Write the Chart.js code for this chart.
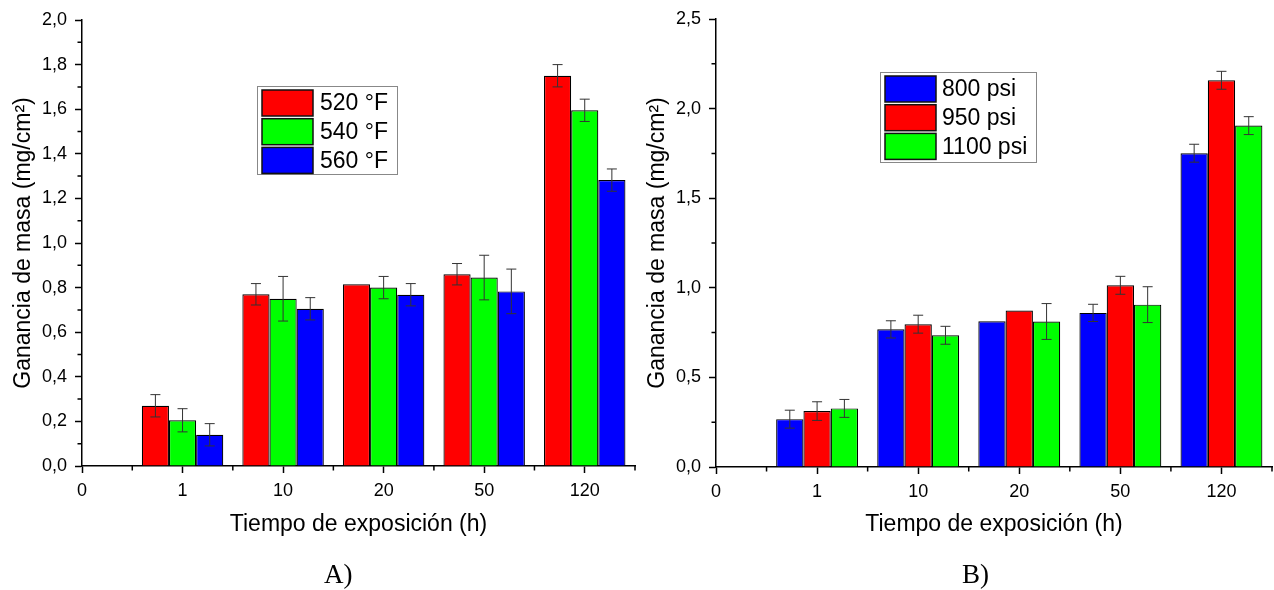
<!DOCTYPE html>
<html>
<head>
<meta charset="utf-8">
<script src="https://cdn.jsdelivr.net/npm/chart.js@4.4.1/dist/chart.umd.min.js"></script>
<style>
  html, body { margin: 0; padding: 0; background: #fff; }
  #wrap { position: relative; width: 1274px; height: 590px; overflow: hidden; }
  #chartA { position: absolute; left: 0; top: 0; }
  #chartB { position: absolute; left: 637px; top: 0; }
  .tag { position: absolute; top: 559px; line-height: 30px; font-family: "Liberation Serif", "Times New Roman", serif; font-size: 27px; color: #000; }
</style>
</head>
<body>
<div id="wrap">
  <canvas id="chartA" width="640" height="560"></canvas>
  <canvas id="chartB" width="637" height="560"></canvas>
  <div class="tag" style="left:324px">A)</div>
  <div class="tag" style="left:962px">B)</div>
</div>
<script>
// exposure time categories (x = 0 is only a tick, no bars)
const hours = ['0', '1', '10', '20', '50', '120'];
const groupPos = [1, 2, 3, 4, 5];

// A) temperature series
const temp520 = [0.27, 0.77, 0.815, 0.86, 1.75];
const temp520Err = [0.05, 0.048, 0, 0.048, 0.05];
const temp540 = [0.205, 0.75, 0.80, 0.845, 1.595];
const temp540Err = [0.052, 0.1, 0.05, 0.1, 0.05];
const temp560 = [0.14, 0.705, 0.768, 0.783, 1.282];
const temp560Err = [0.05, 0.05, 0.05, 0.1, 0.05];

// B) pressure series
const psi800 = [0.267, 0.768, 0.813, 0.86, 1.751];
const psi800Err = [0.05, 0.048, 0, 0.048, 0.05];
const psi950 = [0.312, 0.797, 0.873, 1.014, 2.158];
const psi950Err = [0.052, 0.05, 0, 0.05, 0.05];
const psi1100 = [0.327, 0.735, 0.812, 0.906, 1.905];
const psi1100Err = [0.05, 0.05, 0.1, 0.1, 0.05];

const FONT = '"Liberation Sans", Arial, sans-serif';
const RED = '#ff0000', GREEN = '#00ff00', BLUE = '#0000ff';

function series(label, values, errors, color) {
  return {
    label: label,
    data: groupPos.map((x, i) => ({x: x, y: values[i]})),
    errors: errors,
    backgroundColor: color,
    borderColor: '#000',
    borderWidth: 1.2,
    categoryPercentage: 0.81,
    barPercentage: 1.0
  };
}

const errorBars = {
  id: 'errorBars',
  afterDatasetsDraw(chart) {
    const {ctx, scales: {y}} = chart;
    ctx.save();
    ctx.strokeStyle = '#333';
    ctx.lineWidth = 1;
    chart.data.datasets.forEach((ds, i) => {
      chart.getDatasetMeta(i).data.forEach((bar, j) => {
        const e = ds.errors[j];
        if (!e) return;
        const v = ds.data[j].y;
        const top = y.getPixelForValue(v + e);
        const bot = y.getPixelForValue(v - e);
        ctx.beginPath();
        ctx.moveTo(bar.x, top); ctx.lineTo(bar.x, bot);
        ctx.moveTo(bar.x - 5, top); ctx.lineTo(bar.x + 5, top);
        ctx.moveTo(bar.x - 5, bot); ctx.lineTo(bar.x + 5, bot);
        ctx.stroke();
      });
    });
    ctx.restore();
  }
};

const minorTicks = {
  id: 'minorTicks',
  afterDraw(chart, args, o) {
    const {ctx, scales: {x, y}} = chart;
    ctx.save();
    ctx.strokeStyle = '#000';
    ctx.lineWidth = 1.5;
    ctx.beginPath();
    for (let v = o.xStep / 2; v <= x.max + 1e-9; v += o.xStep) {
      const px = x.getPixelForValue(v);
      ctx.moveTo(px, x.top); ctx.lineTo(px, x.top + o.len);
    }
    for (let v = o.yStep / 2; v <= y.max + 1e-9; v += o.yStep) {
      const py = y.getPixelForValue(v);
      ctx.moveTo(y.right, py); ctx.lineTo(y.right - o.len, py);
    }
    ctx.stroke();
    ctx.restore();
  }
};

const boxLegend = {
  id: 'boxLegend',
  afterDraw(chart, args, o) {
    const ctx = chart.ctx;
    ctx.save();
    ctx.fillStyle = '#fff';
    ctx.fillRect(o.x, o.y, o.w, o.h);
    ctx.strokeStyle = '#888';
    ctx.lineWidth = 1;
    ctx.strokeRect(o.x + 0.5, o.y + 0.5, o.w, o.h);
    ctx.font = '23px ' + FONT;
    ctx.textBaseline = 'middle';
    chart.data.datasets.forEach((ds, i) => {
      const sy = o.y + 4 + i * o.row;
      ctx.fillStyle = ds.backgroundColor;
      ctx.fillRect(o.x + 5, sy, 51, 26);
      ctx.strokeStyle = '#111';
      ctx.lineWidth = 1.5;
      ctx.strokeRect(o.x + 5, sy, 51, 26);
      ctx.fillStyle = '#000';
      ctx.fillText(ds.label, o.x + o.textX, sy + 14);
    });
    ctx.restore();
  }
};

function makeOptions(c) {
  return {
    responsive: false,
    animation: false,
    events: [],
    layout: {padding: {left: 0, top: c.padTop, right: c.padRight, bottom: 0}},
    plugins: {
      legend: {display: false},
      tooltip: {enabled: false},
      minorTicks: {xStep: 1, yStep: c.yStep, len: 4.5},
      boxLegend: c.legend
    },
    scales: {
      x: {
        type: 'linear', min: 0, max: 5.5, offset: false,
        grid: {offset: false, drawOnChartArea: false, drawTicks: true, tickLength: 7, tickColor: '#000', tickWidth: 1.5},
        border: {display: true, color: '#000', width: 1.5},
        ticks: {
          stepSize: 1, includeBounds: false, autoSkip: false, maxRotation: 0,
          padding: 7, color: '#000', font: {family: FONT, size: 18},
          callback: v => hours[v] ?? ''
        },
        title: {display: true, text: 'Tiempo de exposición (h)', color: '#000', font: {family: FONT, size: 23}, padding: {top: 0, bottom: 22}},
        afterFit: s => { s.height = c.xHeight; }
      },
      y: {
        min: 0, max: c.yMax,
        grid: {drawOnChartArea: false, drawTicks: true, tickLength: 7, tickColor: '#000', tickWidth: 1.5},
        border: {display: true, color: '#000', width: 1.5},
        ticks: {
          stepSize: c.yStep, padding: 8, color: '#000', font: {family: FONT, size: 18},
          callback: v => v.toFixed(1).replace('.', ',')
        },
        title: {display: true, text: 'Ganancia de masa (mg/cm²)', color: '#000', font: {family: FONT, size: 23}, padding: {top: c.yTitlePad, bottom: 0}},
        afterFit: s => { s.width = c.yWidth; }
      }
    }
  };
}

new Chart(document.getElementById('chartA'), {
  type: 'bar',
  data: {
    datasets: [
      series('520 °F', temp520, temp520Err, RED),
      series('540 °F', temp540, temp540Err, GREEN),
      series('560 °F', temp560, temp560Err, BLUE)
    ]
  },
  options: makeOptions({
    yMax: 2.0, yStep: 0.2, yWidth: 82, padTop: 20, padRight: 5, xHeight: 94, yTitlePad: 10,
    legend: {x: 257, y: 86, w: 140, h: 88, row: 28.7, textX: 63}
  }),
  plugins: [errorBars, minorTicks, boxLegend]
});

new Chart(document.getElementById('chartB'), {
  type: 'bar',
  data: {
    datasets: [
      series('800 psi', psi800, psi800Err, BLUE),
      series('950 psi', psi950, psi950Err, RED),
      series('1100 psi', psi1100, psi1100Err, GREEN)
    ]
  },
  options: makeOptions({
    yMax: 2.5, yStep: 0.5, yWidth: 79, padTop: 19, padRight: 2, xHeight: 93, yTitlePad: 7,
    legend: {x: 243, y: 72, w: 156, h: 90, row: 28.7, textX: 62}
  }),
  plugins: [errorBars, minorTicks, boxLegend]
});
</script>
</body>
</html>
